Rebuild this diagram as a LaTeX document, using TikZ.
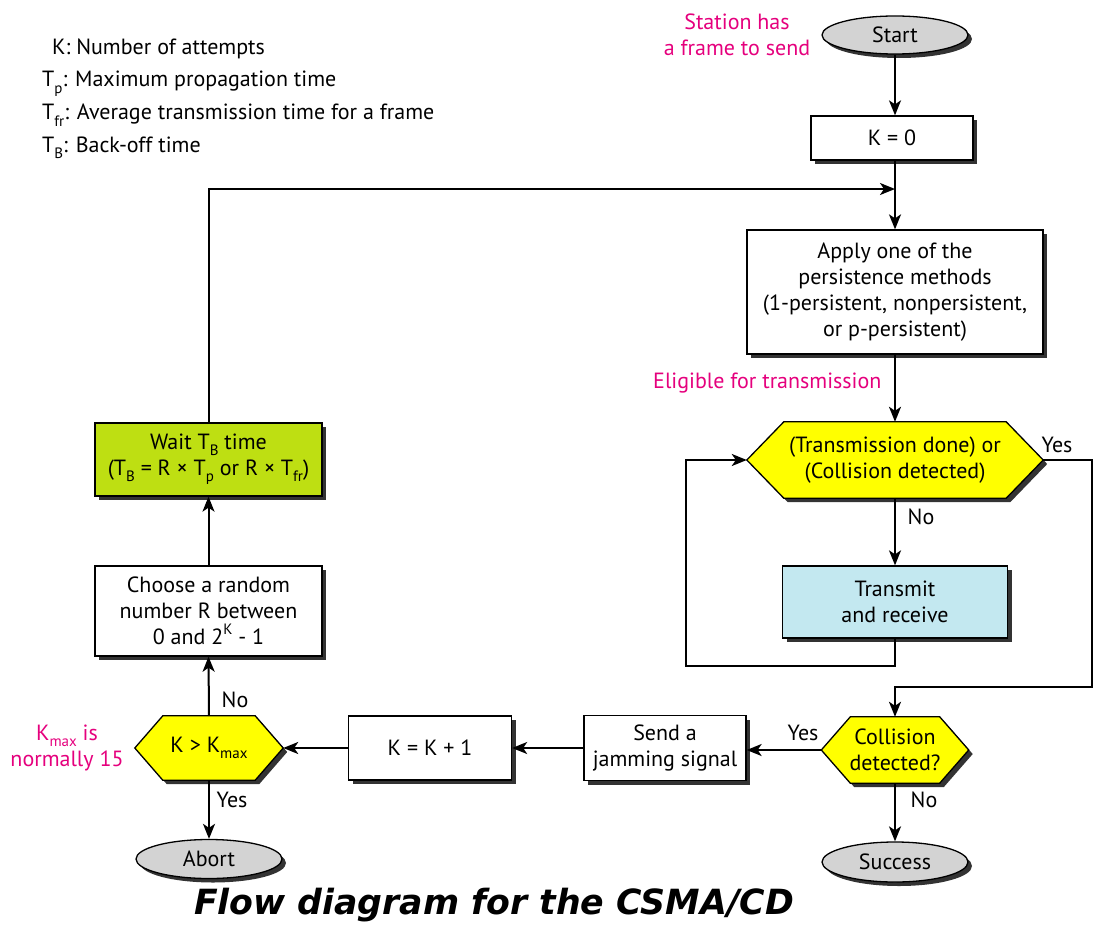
\documentclass[tikz,border=0pt]{standalone}
\usepackage{fontspec}
\setmainfont{PT Sans}
\newfontfamily\titlefont{DejaVu Sans}
\usetikzlibrary{arrows.meta,shapes.geometric,shadows,backgrounds}
\definecolor{pinkc}{HTML}{E5007D}
\definecolor{hexyellow}{HTML}{FFFF00}
\definecolor{waitgreen}{HTML}{BEDF12}
\definecolor{txblue}{HTML}{C3E8F0}
\definecolor{ovalgray}{HTML}{D3D3D3}
\newcommand\lowr[1]{\raisebox{-0.55ex}{\fontsize{15}{15}\selectfont #1}}
\newcommand\highr[1]{\raisebox{0.9ex}{\fontsize{15}{15}\selectfont #1}}
\newcommand{\myhex}[2]{%
 \fill[black!80] ([shift={(4,4)}]#1.west) -- ([shift={(#2+4,4)}]#1.north west) -- ([shift={(-#2+4,4)}]#1.north east) -- ([shift={(4,4)}]#1.east) -- ([shift={(-#2+4,4)}]#1.south east) -- ([shift={(#2+4,4)}]#1.south west) -- cycle;
 \filldraw[fill=hexyellow, line width=1.3pt] (#1.west) -- ([xshift=#2pt]#1.north west) -- ([xshift=-#2pt]#1.north east) -- (#1.east) -- ([xshift=-#2pt]#1.south east) -- ([xshift=#2pt]#1.south west) -- cycle;}
\tikzset{
  shad/.style={drop shadow={shadow xshift=4pt, shadow yshift=-4pt, fill=black!80, opacity=1}},
  box/.style={draw, line width=1.3pt, fill=white, align=center, inner sep=0pt, shad},
  oval/.style={ellipse, draw, line width=1.3pt, fill=ovalgray, inner sep=0pt, shad},
  hexn/.style={inner sep=0pt, align=center},
  conn/.style={line width=2pt, -{Stealth[length=15pt,width=12pt,inset=4pt]}},
  lbl/.style={inner sep=0pt},
  note/.style={inner sep=0pt, text=pinkc, align=center},
}
\begin{document}
\begin{tikzpicture}[x=1pt,y=-1pt, every node/.style={font=\fontsize{22}{26}\selectfont}]
\useasboundingbox (0,0) rectangle (1094,931);
% legend
\node[lbl, anchor=base west] (l1) at (52,55) {K: Number of attempts};
\node[lbl, anchor=base west] (l2) at (42,87) {T\lowr{p}: Maximum propagation time};
\node[lbl, anchor=base west] (l3) at (42,120) {T\lowr{fr}: Average transmission time for a frame};
\node[lbl, anchor=base west] (l4) at (42,152) {T\lowr{B}: Back-off time};
% right column
\node[oval, minimum width=146pt, minimum height=38pt] (start) at (895,35) {Start};
\node[note] (st) at (737,35) {Station has\\a frame to send};
\node[box, minimum width=162pt, minimum height=44pt] (k0) at (892,138) {K = 0};
\coordinate (m) at (895,189);
\node[box, minimum width=296pt, minimum height=124pt] (apply) at (895,292) {Apply one of the\\persistence methods\\(1-persistent, nonpersistent,\\or p-persistent)};
\node[note, anchor=west] (elig) at (653,383) {Eligible for transmission};
\node[hexn, minimum width=296pt, minimum height=76pt] (h1) at (895,460) {(Transmission done) or\\(Collision detected)};
\node[box, fill=txblue, minimum width=225pt, minimum height=72pt] (tx) at (895,602) {Transmit\\and receive};
\coordinate (lb) at (686,666);
\coordinate (rb) at (1092,687);
\node[hexn, minimum width=147pt, minimum height=66pt] (h2) at (895,750) {Collision\\detected?};
\node[oval, minimum width=146pt, minimum height=40pt] (succ) at (895,862) {Success};
% bottom row
\node[box, minimum width=162pt, minimum height=65pt] (jam) at (665,748) {Send a\\jamming signal};
\node[box, minimum width=163pt, minimum height=64pt] (kk) at (430,748) {K = K + 1};
\node[hexn, minimum width=148pt, minimum height=64pt] (h3) at (209,748) {K > K\lowr{max}};
\node[note] (kn) at (67,748) {K\lowr{max} is\\normally 15};
\node[oval, minimum width=146pt, minimum height=39pt] (abort) at (209,859) {Abort};
% left column
\node[box, minimum width=227pt, minimum height=90pt] (choose) at (208.5,611) {Choose a random\\number R between\\0 and 2\highr{K} - 1};
\node[box, fill=waitgreen, minimum width=227pt, minimum height=73pt] (wait) at (208.5,459.5) {Wait T\lowr{B} time\\(T\lowr{B} = R × T\lowr{p} or R × T\lowr{fr})};
% hexagons
\begin{scope}[on background layer]
\myhex{h1}{37}
\myhex{h2}{29}
\myhex{h3}{28}
\end{scope}
% connectors
\draw[conn] (start.south) -- (start.south |- k0.north);
\draw[conn] (m |- k0.south) -- (m |- apply.north);
\draw[conn] (wait.north) |- (m);
\draw[conn] (apply.south) -- (h1.north);
\draw[conn] (h1.south) -- (tx.north);
\draw[conn] (tx.south) |- (lb) |- (h1.west);
\draw[conn] (h1.east) -| (rb) -| (h2.north);
\draw[conn] (h2.west) -- (h2.west -| jam.east);
\draw[conn] (h2.south) -- (succ.north);
\draw[conn] (jam.west) -- (kk.east);
\draw[conn] (kk.west) -- (h3.east);
\draw[conn] (h3.north) -- (choose.south);
\draw[conn] (h3.south) -- (abort.north);
\draw[conn] (choose.north) -- (wait.south);
% branch labels
\node[lbl] (y1) at (1057,445) {Yes};
\node[lbl] (n1) at (921,517) {No};
\node[lbl] (y2) at (803,733) {Yes};
\node[lbl] (n2) at (924,800) {No};
\node[lbl] (n3) at (235,700) {No};
\node[lbl] (y3) at (232,800) {Yes};
% title
\node[lbl, font=\titlefont\bfseries\itshape\fontsize{34.7}{40}\selectfont] (title) at (494,905) {Flow diagram for the CSMA/CD};
\end{tikzpicture}
\end{document}
